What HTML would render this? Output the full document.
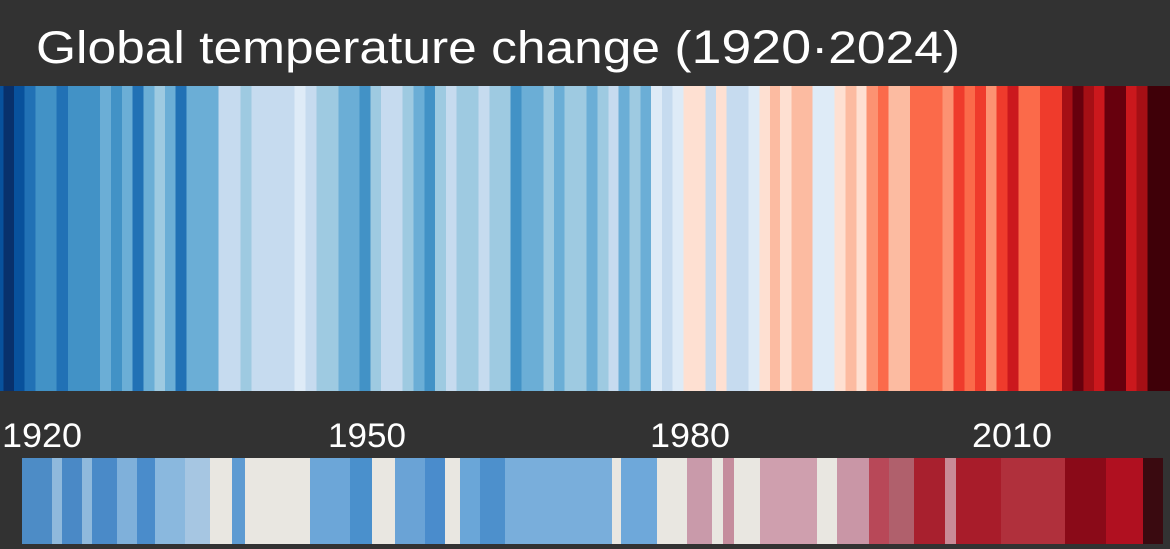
<!DOCTYPE html>
<html><head><meta charset="utf-8"><style>
html,body{margin:0;padding:0;background:#323232;}
svg{display:block}
text{font-family:"Liberation Sans",sans-serif;fill:#fff}
</style></head><body>
<svg width="1170" height="549" viewBox="0 0 1170 549" xmlns="http://www.w3.org/2000/svg">
<rect width="1170" height="549" fill="#323232"/>
<text x="36" y="63" font-size="45" textLength="924" lengthAdjust="spacingAndGlyphs">Global temperature change (<tspan font-size="47">1920</tspan>·2024)</text>
<g shape-rendering="crispEdges">
<rect x="0" y="86" width="4" height="305" fill="#08519c"/>
<rect x="3.3" y="86" width="11" height="305" fill="#08306b"/>
<rect x="14" y="86" width="11" height="305" fill="#08519c"/>
<rect x="24.7" y="86" width="11" height="305" fill="#2171b5"/>
<rect x="35.3" y="86" width="22" height="305" fill="#4292c6"/>
<rect x="56.7" y="86" width="12" height="305" fill="#2171b5"/>
<rect x="68" y="86" width="32.5" height="305" fill="#4292c6"/>
<rect x="100" y="86" width="11.5" height="305" fill="#6baed6"/>
<rect x="111" y="86" width="11.5" height="305" fill="#4292c6"/>
<rect x="122" y="86" width="11" height="305" fill="#6baed6"/>
<rect x="132.7" y="86" width="11" height="305" fill="#2171b5"/>
<rect x="143.3" y="86" width="11.5" height="305" fill="#6baed6"/>
<rect x="154.3" y="86" width="11" height="305" fill="#9ecae1"/>
<rect x="165" y="86" width="11" height="305" fill="#6baed6"/>
<rect x="175.7" y="86" width="11.5" height="305" fill="#2171b5"/>
<rect x="186.7" y="86" width="32.5" height="305" fill="#6baed6"/>
<rect x="218.7" y="86" width="22.5" height="305" fill="#c6dbef"/>
<rect x="240.7" y="86" width="11" height="305" fill="#9ecae1"/>
<rect x="251.3" y="86" width="43.5" height="305" fill="#c6dbef"/>
<rect x="294.7" y="86" width="11.5" height="305" fill="#deebf7"/>
<rect x="305.7" y="86" width="11.5" height="305" fill="#c6dbef"/>
<rect x="316.7" y="86" width="22" height="305" fill="#9ecae1"/>
<rect x="338.3" y="86" width="21.5" height="305" fill="#6baed6"/>
<rect x="359.3" y="86" width="11.5" height="305" fill="#4292c6"/>
<rect x="370.7" y="86" width="10.5" height="305" fill="#9ecae1"/>
<rect x="381" y="86" width="22" height="305" fill="#c6dbef"/>
<rect x="402.7" y="86" width="11" height="305" fill="#9ecae1"/>
<rect x="413.3" y="86" width="11.5" height="305" fill="#6baed6"/>
<rect x="424.7" y="86" width="10.5" height="305" fill="#4292c6"/>
<rect x="435" y="86" width="11.5" height="305" fill="#9ecae1"/>
<rect x="446" y="86" width="11" height="305" fill="#c6dbef"/>
<rect x="456.7" y="86" width="22" height="305" fill="#9ecae1"/>
<rect x="478.3" y="86" width="11.5" height="305" fill="#c6dbef"/>
<rect x="489.3" y="86" width="21.5" height="305" fill="#9ecae1"/>
<rect x="510.7" y="86" width="11" height="305" fill="#4292c6"/>
<rect x="521.3" y="86" width="22.5" height="305" fill="#6baed6"/>
<rect x="543.3" y="86" width="11" height="305" fill="#9ecae1"/>
<rect x="554" y="86" width="10.5" height="305" fill="#6baed6"/>
<rect x="564.3" y="86" width="22.5" height="305" fill="#9ecae1"/>
<rect x="586.7" y="86" width="11" height="305" fill="#6baed6"/>
<rect x="597.3" y="86" width="11.5" height="305" fill="#9ecae1"/>
<rect x="608.3" y="86" width="10.5" height="305" fill="#c6dbef"/>
<rect x="618.7" y="86" width="11" height="305" fill="#6baed6"/>
<rect x="629.3" y="86" width="11.5" height="305" fill="#9ecae1"/>
<rect x="640.7" y="86" width="10.5" height="305" fill="#6baed6"/>
<rect x="651" y="86" width="11.5" height="305" fill="#deebf7"/>
<rect x="662" y="86" width="11" height="305" fill="#c6dbef"/>
<rect x="672.7" y="86" width="11" height="305" fill="#deebf7"/>
<rect x="683.3" y="86" width="22.5" height="305" fill="#fee0d2"/>
<rect x="705.3" y="86" width="11" height="305" fill="#c6dbef"/>
<rect x="716" y="86" width="11" height="305" fill="#fee0d2"/>
<rect x="726.7" y="86" width="22.5" height="305" fill="#c6dbef"/>
<rect x="748.7" y="86" width="11" height="305" fill="#deebf7"/>
<rect x="759.3" y="86" width="11" height="305" fill="#fee0d2"/>
<rect x="770" y="86" width="10.5" height="305" fill="#fcbba1"/>
<rect x="780" y="86" width="11.5" height="305" fill="#fee0d2"/>
<rect x="791.3" y="86" width="21.5" height="305" fill="#fcbba1"/>
<rect x="812.7" y="86" width="22.5" height="305" fill="#deebf7"/>
<rect x="834.7" y="86" width="11" height="305" fill="#fee0d2"/>
<rect x="845.3" y="86" width="11.5" height="305" fill="#fcbba1"/>
<rect x="856.7" y="86" width="10.5" height="305" fill="#fee0d2"/>
<rect x="866.7" y="86" width="11.5" height="305" fill="#fc9272"/>
<rect x="878" y="86" width="10.5" height="305" fill="#fb6a4a"/>
<rect x="888.3" y="86" width="22" height="305" fill="#fcbba1"/>
<rect x="910" y="86" width="33" height="305" fill="#fb6a4a"/>
<rect x="942.7" y="86" width="11" height="305" fill="#fc9272"/>
<rect x="953.3" y="86" width="11.5" height="305" fill="#ef3b2c"/>
<rect x="964.7" y="86" width="10.5" height="305" fill="#fb6a4a"/>
<rect x="975" y="86" width="11.5" height="305" fill="#ef3b2c"/>
<rect x="986" y="86" width="11" height="305" fill="#fc9272"/>
<rect x="996.7" y="86" width="11" height="305" fill="#ef3b2c"/>
<rect x="1007.3" y="86" width="11.5" height="305" fill="#cb181d"/>
<rect x="1018.3" y="86" width="22" height="305" fill="#fb6a4a"/>
<rect x="1040" y="86" width="22.5" height="305" fill="#ef3b2c"/>
<rect x="1062" y="86" width="10.5" height="305" fill="#a50f15"/>
<rect x="1072.3" y="86" width="11.5" height="305" fill="#67000d"/>
<rect x="1083.3" y="86" width="11" height="305" fill="#a50f15"/>
<rect x="1094" y="86" width="11" height="305" fill="#cb181d"/>
<rect x="1104.7" y="86" width="21.5" height="305" fill="#67000d"/>
<rect x="1126" y="86" width="11" height="305" fill="#cb181d"/>
<rect x="1136.7" y="86" width="11.5" height="305" fill="#a50f15"/>
<rect x="1147.7" y="86" width="22.3" height="305" fill="#3f0008"/>
</g>
<text x="2" y="447" font-size="34" textLength="80" lengthAdjust="spacingAndGlyphs">1920</text>
<text x="328" y="447" font-size="34" textLength="78" lengthAdjust="spacingAndGlyphs">1950</text>
<text x="650" y="447" font-size="34" textLength="80" lengthAdjust="spacingAndGlyphs">1980</text>
<text x="972" y="447" font-size="34" textLength="80" lengthAdjust="spacingAndGlyphs">2010</text>
<g>
<rect x="22" y="458" width="1141" height="86" fill="#e9e7e1"/>
<rect x="22" y="458" width="30" height="86" fill="#4d8cc6"/>
<rect x="52" y="458" width="10" height="86" fill="#8fb9dc"/>
<rect x="62" y="458" width="20" height="86" fill="#4a89c6"/>
<rect x="82" y="458" width="10" height="86" fill="#8fb9dc"/>
<rect x="92" y="458" width="25" height="86" fill="#4a8ac8"/>
<rect x="117" y="458" width="20" height="86" fill="#7fb0da"/>
<rect x="137" y="458" width="18" height="86" fill="#4a8ccb"/>
<rect x="155" y="458" width="30" height="86" fill="#8ab8de"/>
<rect x="185" y="458" width="25" height="86" fill="#a6c6e2"/>
<rect x="232" y="458" width="13" height="86" fill="#5e9bd2"/>
<rect x="310" y="458" width="40" height="86" fill="#6ca6d8"/>
<rect x="350" y="458" width="22" height="86" fill="#4a90cc"/>
<rect x="395" y="458" width="30" height="86" fill="#6aa3d6"/>
<rect x="425" y="458" width="20" height="86" fill="#4a8ccc"/>
<rect x="460" y="458" width="20" height="86" fill="#6aa6d8"/>
<rect x="480" y="458" width="25" height="86" fill="#4d90cc"/>
<rect x="505" y="458" width="107" height="86" fill="#79aedb"/>
<rect x="621" y="458" width="36" height="86" fill="#6ea8da"/>
<rect x="687" y="458" width="25" height="86" fill="#c99aaa"/>
<rect x="723" y="458" width="11" height="86" fill="#c58d9d"/>
<rect x="760" y="458" width="57" height="86" fill="#cf9fae"/>
<rect x="837" y="458" width="32" height="86" fill="#c996a6"/>
<rect x="869" y="458" width="20" height="86" fill="#b84858"/>
<rect x="889" y="458" width="25" height="86" fill="#b0606c"/>
<rect x="914" y="458" width="31" height="86" fill="#a8202e"/>
<rect x="945" y="458" width="11" height="86" fill="#c98a96"/>
<rect x="956" y="458" width="45" height="86" fill="#a81c2a"/>
<rect x="1001" y="458" width="64" height="86" fill="#b0303c"/>
<rect x="1065" y="458" width="41" height="86" fill="#8a0a18"/>
<rect x="1106" y="458" width="37" height="86" fill="#b01020"/>
<rect x="1143" y="458" width="20" height="86" fill="#3a0a10"/>
</g>
</svg>
</body></html>
